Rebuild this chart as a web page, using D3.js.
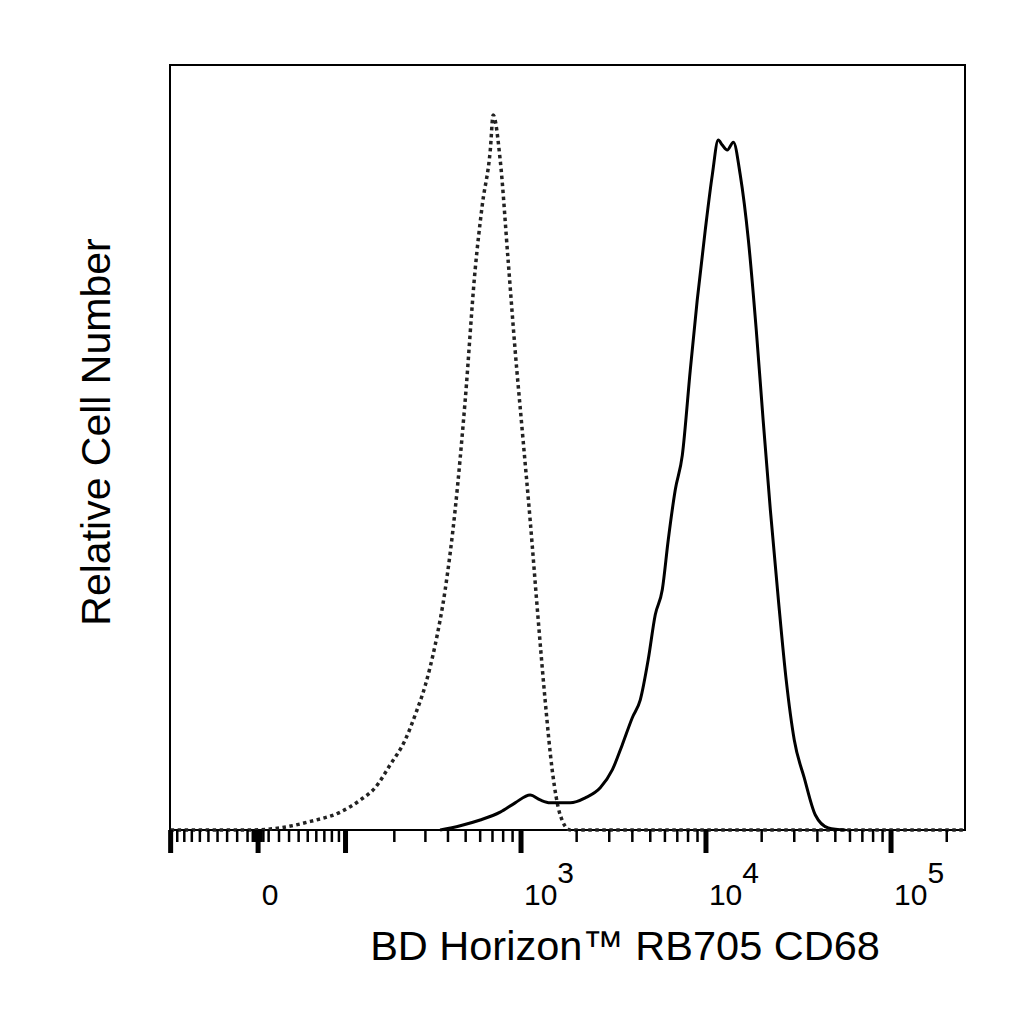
<!DOCTYPE html>
<html><head><meta charset="utf-8">
<script src="https://cdn.jsdelivr.net/npm/d3@7"></script>
<style>body{margin:0;background:#fff}svg{font-family:Arial,"Liberation Sans",sans-serif}</style>
</head><body><svg id="c" width="1024" height="1024"></svg>
<script>
// isotype control (dotted)
const isoX = [-100, -7, 21, 53, 92, 125, 154, 189, 231, 263, 300, 340, 386, 438, 497, 563, 616, 681, 706, 771, 851, 929, 1015, 1120, 1239, 1350, 1475, 1630, 1845, 250000];
const isoY = [0, 0, 0.3, 1.2, 2.5, 4.2, 5.9, 9.1, 12.6, 16.1, 20.3, 25.9, 33.6, 44.8, 60.1, 78.3, 87.4, 95.1, 100, 93.7, 79.7, 67.1, 55.9, 43.4, 29.4, 18.2, 8.4, 2.1, 0, 0];
// CD68 stained (solid)
const cdX = [362, 467, 600, 771, 929, 1120, 1270, 1437, 1845, 2227, 2683, 3116, 3527, 3998, 4416, 4872, 5320, 5806, 6255, 6825, 7448, 8223, 8968, 9910, 10815, 11651, 12251, 13034, 14060, 15322, 16950, 18700, 20370, 22270, 24620, 27130, 30000, 33970, 38990, 45830, 56620];
const cdY = [0, 0.6, 1.4, 2.5, 3.8, 4.9, 4.2, 3.8, 3.8, 4.5, 5.9, 8.4, 11.9, 15.7, 18.2, 23.8, 30.1, 33.6, 40.6, 47.6, 52.4, 64.3, 74.1, 83.9, 91.6, 96.5, 95.8, 95.1, 96.2, 91.6, 82.5, 69.9, 57.3, 44.8, 32.2, 21.0, 12.6, 7.3, 2.1, 0.3, 0];
const majorTicks = [-100, 0, 100, 1000, 10000, 100000];
const tickLabels = [[0, "0", null], [1000, "10", "3"], [10000, "10", "4"], [100000, "10", "5"]];
const minorTicks = [-90, -80, -70, -60, -50, -40, -30, -20, -10, -5, -3, 3, 5, 10, 20, 30, 40, 50, 60, 70, 80, 90,
  200, 300, 400, 500, 600, 700, 800, 900, 2000, 3000, 4000, 5000, 6000, 7000, 8000, 9000,
  20000, 30000, 40000, 50000, 60000, 70000, 80000, 90000, 200000];

const W = 76;
const tf = v => Math.asinh(v / W) / Math.LN10;
const x = d3.scaleLinear().domain([tf(-101), tf(251000)]).range([170, 965]);
const X = v => x(tf(v));
const y = d3.scaleLinear().domain([0, 107]).range([830, 65]);

const svg = d3.select("#c");
svg.append("rect").attr("x", 170).attr("y", 65).attr("width", 795).attr("height", 765)
  .attr("fill", "none").attr("stroke", "#000").attr("stroke-width", 2);

const line = d3.line().x(d => X(d[0])).y(d => y(d[1])).curve(d3.curveMonotoneX);
svg.append("path").datum(d3.zip(isoX, isoY)).attr("d", line)
  .attr("fill", "none").attr("stroke", "#222").attr("stroke-width", 3.5).attr("stroke-dasharray", "3.5,3.5");
svg.append("path").datum(d3.zip(cdX, cdY)).attr("d", line)
  .attr("fill", "none").attr("stroke", "#000").attr("stroke-width", 3);

const ax = svg.append("g");
ax.selectAll(".mn").data(minorTicks).join("line")
  .attr("x1", d => X(d)).attr("x2", d => X(d)).attr("y1", 830).attr("y2", 842)
  .attr("stroke", "#000").attr("stroke-width", 2.5);
ax.selectAll(".mj").data(majorTicks).join("line")
  .attr("x1", d => X(d)).attr("x2", d => X(d)).attr("y1", 830).attr("y2", 853)
  .attr("stroke", "#000").attr("stroke-width", 5);

const lab = svg.append("g").attr("font-size", 30);
tickLabels.forEach(([v, base, ex]) => {
  const t = lab.append("text").attr("x", X(v) + (ex ? 28 : 12)).attr("y", 905).attr("text-anchor", "middle");
  t.append("tspan").text(base);
  if (ex) t.append("tspan").attr("dy", -22).text(ex);
});

svg.append("text").attr("x", 625).attr("y", 960).attr("text-anchor", "middle")
  .attr("font-size", 41.5).text("BD Horizon™ RB705 CD68");
svg.append("text").attr("transform", "translate(110,432) rotate(-90)").attr("text-anchor", "middle")
  .attr("font-size", 41).text("Relative Cell Number");
</script></body></html>
